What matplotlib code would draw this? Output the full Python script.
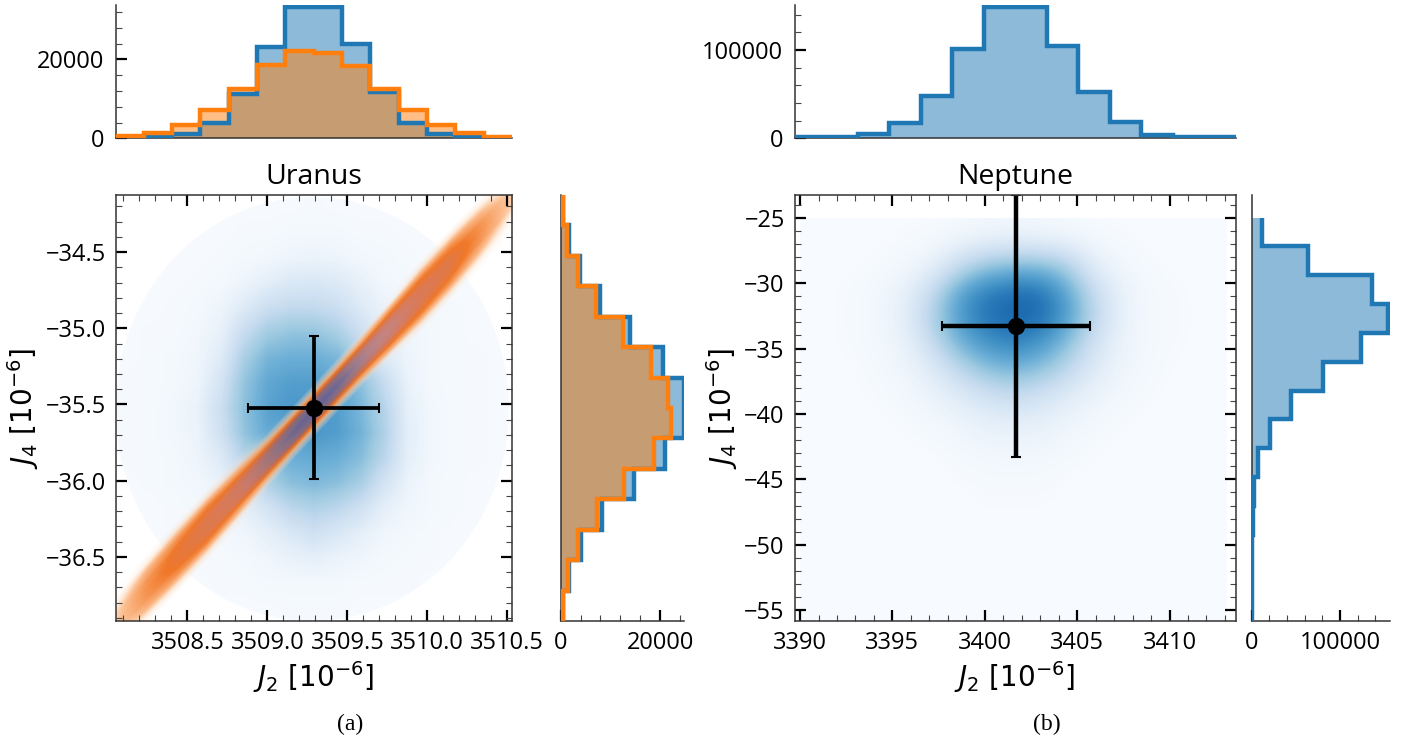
import matplotlib
matplotlib.use('Agg')
import matplotlib.pyplot as plt
import numpy as np
from matplotlib.colors import LinearSegmentedColormap
from matplotlib.patches import Ellipse, Rectangle
from matplotlib.ticker import MultipleLocator
from matplotlib.transforms import Affine2D

# marginal histograms
uranus_j2_blue = [100, 400, 1000, 3900, 11100, 23000, 33300, 33300, 24000, 11600, 4000, 1000, 300, 100]
uranus_j2_orange = [500, 1400, 3400, 7200, 12500, 18500, 22000, 21700, 18300, 12400, 7200, 3300, 1300, 450]
# these two run from the top bin to the bottom bin
uranus_j4_blue = [400, 1700, 3800, 7900, 14000, 20500, 24700, 24700, 20900, 14700, 8400, 4100, 1700, 400]
uranus_j4_orange = [400, 1200, 3400, 7200, 12500, 18100, 21600, 22100, 18700, 12800, 7400, 3500, 1400, 400]
neptune_j2 = [1000, 1800, 4500, 17700, 48300, 101000, 149000, 149000, 105000, 52000, 18100, 4200, 1500, 1000]
neptune_j4 = [12000, 63400, 135800, 154700, 123800, 81100, 44500, 20800, 7500, 2600, 1100, 500, 300, 200]

# best values with errors
uranus_j2, uranus_j2_err = 3509.29, 0.41
uranus_j4, uranus_j4_err = -35.52, 0.47
neptune_j2_best, neptune_j2_err = 3401.68, 4.0
neptune_j4_best, neptune_j4_err = -33.28, 10.0

# density of the blue cloud, top row first, on a coarse grid
uranus_cloud = [
    [.005, .005, .005, .005, .005, .005, .005, .005, .01, .005, .005, .005, .005, .005, .005, .005, .005],
    [.005, .005, .005, .005, .005, .01, .01, .02, .02, .02, .01, .01, .005, .005, .005, .005, .005],
    [.005, .005, .005, .005, .01, .02, .03, .05, .06, .05, .03, .02, .01, .005, .005, .005, .005],
    [.005, .005, .005, .01, .02, .05, .10, .14, .15, .13, .08, .03, .02, .01, .005, .005, .005],
    [.005, .005, .01, .02, .05, .13, .22, .26, .26, .22, .13, .06, .03, .02, .01, .005, .005],
    [.005, .01, .01, .03, .08, .24, .36, .40, .40, .34, .22, .09, .04, .02, .01, .005, .005],
    [.005, .01, .02, .04, .12, .34, .47, .50, .50, .46, .32, .13, .05, .02, .01, .01, .005],
    [.01, .01, .02, .05, .18, .40, .53, .57, .57, .54, .42, .24, .07, .02, .01, .01, .005],
    [.01, .01, .03, .07, .22, .42, .55, .60, .60, .57, .46, .30, .09, .03, .01, .01, .005],
    [.01, .01, .03, .06, .20, .40, .52, .57, .60, .57, .48, .32, .10, .03, .01, .01, .005],
    [.01, .01, .02, .05, .13, .30, .43, .50, .52, .50, .43, .28, .09, .03, .01, .01, .005],
    [.005, .01, .02, .03, .07, .17, .33, .42, .45, .42, .34, .18, .06, .02, .01, .005, .005],
    [.005, .005, .01, .02, .04, .09, .18, .28, .32, .28, .20, .09, .04, .02, .01, .005, .005],
    [.005, .005, .01, .01, .02, .04, .09, .15, .20, .15, .09, .04, .02, .01, .005, .005, .005],
    [.005, .005, .005, .01, .01, .02, .04, .07, .09, .06, .04, .02, .01, .01, .005, .005, .005],
    [.005, .005, .005, .005, .01, .01, .02, .02, .02, .02, .01, .01, .01, .005, .005, .005, .005],
    [.005, .005, .005, .005, .005, .005, .005, .01, .01, .01, .005, .005, .005, .005, .005, .005, .005],
]

neptune_cloud = [
    [0, 0, 0, 0, 0, 0, .01, .02, .02, .02, .01, 0, 0, 0, 0, 0, 0],
    [0, 0, 0, 0, .01, .02, .05, .08, .10, .08, .06, .03, .01, 0, 0, 0, 0],
    [0, 0, 0, .01, .03, .08, .25, .40, .45, .45, .35, .10, .04, .01, 0, 0, 0],
    [0, 0, .01, .03, .08, .25, .55, .70, .76, .75, .55, .25, .07, .02, .01, 0, 0],
    [0, 0, .01, .03, .10, .33, .60, .75, .80, .78, .60, .30, .08, .02, .01, 0, 0],
    [0, 0, .01, .03, .07, .25, .50, .63, .70, .63, .45, .20, .06, .02, .01, 0, 0],
    [0, 0, 0, .02, .05, .13, .30, .44, .50, .44, .30, .13, .05, .02, 0, 0, 0],
    [0, 0, 0, .01, .03, .07, .14, .22, .28, .22, .14, .07, .03, .01, 0, 0, 0],
    [0, 0, 0, 0, .01, .03, .06, .10, .12, .10, .06, .03, .01, 0, 0, 0, 0],
    [0, 0, 0, 0, 0, .01, .03, .05, .05, .05, .03, .01, 0, 0, 0, 0, 0],
    [0, 0, 0, 0, 0, 0, .01, .02, .02, .02, .01, 0, 0, 0, 0, 0, 0],
    [0, 0, 0, 0, 0, 0, 0, .01, .01, .01, 0, 0, 0, 0, 0, 0, 0],
    [0, 0, 0, 0, 0, 0, 0, 0, 0, 0, 0, 0, 0, 0, 0, 0, 0],
    [0, 0, 0, 0, 0, 0, 0, 0, 0, 0, 0, 0, 0, 0, 0, 0, 0],
    [0, 0, 0, 0, 0, 0, 0, 0, 0, 0, 0, 0, 0, 0, 0, 0, 0],
    [0, 0, 0, 0, 0, 0, 0, 0, 0, 0, 0, 0, 0, 0, 0, 0, 0],
    [0, 0, 0, 0, 0, 0, 0, 0, 0, 0, 0, 0, 0, 0, 0, 0, 0],
]

# orange ridge: columns step along J2, rows are J4 distance from the ridge line (+.24 at top, -.24 at bottom)
ridge_density = [
    [0, 0, 0, 0, 0, 0, 0, 0, 0, 0, 0, 0, 0, 0],
    [.02, .10, .15, .16, .10, .02, 0, 0, 0, .04, .16, .16, .10, .02],
    [.10, .30, .40, .45, .38, .28, .25, .25, .28, .40, .46, .42, .28, .08],
    [.20, .40, .52, .60, .65, .72, .82, .82, .75, .72, .62, .56, .40, .20],
    [.22, .42, .55, .62, .70, .82, .95, .98, .88, .78, .66, .60, .42, .22],
    [.20, .40, .52, .60, .65, .72, .82, .82, .75, .72, .62, .56, .40, .20],
    [.10, .30, .40, .45, .38, .28, .25, .25, .28, .40, .46, .42, .28, .08],
    [.02, .10, .15, .16, .10, .02, 0, 0, 0, .04, .16, .16, .10, .02],
    [0, 0, 0, 0, 0, 0, 0, 0, 0, 0, 0, 0, 0, 0],
]
ridge_j2_range = (3507.955, 3510.615)
ridge_offset_range = (-.27, .27)
ridge_slope, ridge_start_j2, ridge_start_j4 = 1.125, 3508.05, -36.93

BLUE = '#1f77b4'
ORANGE = '#ff7f0e'
W, H = 1416, 745

plt.rcParams['font.family'] = ['Open Sans', 'DejaVu Sans']
plt.rcParams['mathtext.fontset'] = 'dejavusans'
plt.rcParams['font.size'] = 17
plt.rcParams['axes.linewidth'] = 1.1
plt.rcParams['axes.edgecolor'] = '#333333'

ridge_cmap = LinearSegmentedColormap.from_list('ridge', [
    (0.0, (1.0, .94, .88, 0.0)),
    (.25, (.99, .70, .48, .8)),
    (.5, (.94, .44, .11, .95)),
    (.7, (.80, .33, .20, .75)),
    (.85, (.63, .29, .31, .6)),
    (1.0, (.42, .23, .50, .6)),
])


def px_axes(fig, left, top, right, bottom):
    return fig.add_axes([left / W, 1 - bottom / H, (right - left) / W, (bottom - top) / H])


def style_main(ax, xminor, yminor, xmajor, ymajor):
    ax.xaxis.set_major_locator(MultipleLocator(xmajor))
    ax.yaxis.set_major_locator(MultipleLocator(ymajor))
    ax.xaxis.set_minor_locator(MultipleLocator(xminor))
    ax.yaxis.set_minor_locator(MultipleLocator(yminor))
    ax.tick_params(which='major', direction='in', top=True, right=True, length=8, width=1.6, labelsize=17, pad=7)
    ax.tick_params(which='minor', direction='in', top=True, right=True, length=4.5, width=.8, color='#444444')
    ax.set_xlabel(r'$J_2\ [10^{-6}]$', fontsize=20, labelpad=3)
    ax.set_ylabel(r'$J_4\ [10^{-6}]$', fontsize=20, labelpad=3)


def style_top(ax, major, minor):
    ax.spines[['top', 'right']].set_visible(False)
    ax.yaxis.set_major_locator(MultipleLocator(major))
    ax.yaxis.set_minor_locator(MultipleLocator(minor))
    ax.tick_params(axis='x', which='both', bottom=False, labelbottom=False)
    ax.tick_params(axis='y', which='major', direction='in', length=8, width=1.6, labelsize=17, pad=8)
    ax.tick_params(axis='y', which='minor', direction='in', length=4.5, width=.8, color='#444444')


def style_side(ax, major, minor):
    ax.spines[['top', 'right']].set_visible(False)
    ax.xaxis.set_major_locator(MultipleLocator(major))
    ax.xaxis.set_minor_locator(MultipleLocator(minor))
    ax.tick_params(axis='y', which='both', left=False, labelleft=False)
    ax.tick_params(axis='x', which='major', direction='in', length=8, width=1.6, labelsize=17, pad=7)
    ax.tick_params(axis='x', which='minor', direction='in', length=4.5, width=.8, color='#444444')


def draw_hist(ax, values, edges, color, horizontal=False, order=0):
    # fills stay under both outlines
    orient = 'horizontal' if horizontal else 'vertical'
    ax.stairs(values, edges, orientation=orient, fill=True, color=color, alpha=.5, lw=0, zorder=2 + order * .1)
    ax.stairs(values, edges, orientation=orient, color=color, lw=3.2, baseline=None, zorder=3 + order * .1)


fig = plt.figure(figsize=(W / 100, H / 100), dpi=100)

# Uranus
u_xlim = (3508.05, 3510.53)
u_ylim = (-36.92, -34.126)
ax = px_axes(fig, 115.5, 195, 512, 621)
cloud = ax.imshow(uranus_cloud, extent=(*u_xlim, *u_ylim), origin='upper', aspect='auto',
                  cmap='Blues', vmin=0, vmax=1, interpolation='bilinear')
cloud.set_clip_path(Ellipse((3509.28, -35.53), 2.46, 2.78, transform=ax.transData, fc='none'))
ridge = ax.imshow(ridge_density, extent=(*ridge_j2_range, *ridge_offset_range), origin='upper',
                  aspect='auto', cmap=ridge_cmap, vmin=0, vmax=1, interpolation='bilinear')
shear = Affine2D.from_values(1, ridge_slope, 0, 1, 0, ridge_start_j4 - ridge_slope * ridge_start_j2)
ridge.set_transform(shear + ax.transData)
ax.errorbar(uranus_j2, uranus_j4, xerr=uranus_j2_err, yerr=uranus_j4_err, fmt='o', color='k',
            ms=11.5, elinewidth=2.7, capsize=3.5, capthick=1.5)
ax.set_xlim(u_xlim)
ax.set_ylim(u_ylim)
style_main(ax, .1, .1, .5, .5)
ax.set_title('Uranus', fontsize=20.5, pad=8)

top = px_axes(fig, 115.5, 5, 512, 138.3)
edges = np.linspace(*u_xlim, len(uranus_j2_blue) + 1)
draw_hist(top, uranus_j2_blue, edges, BLUE)
draw_hist(top, uranus_j2_orange, edges, ORANGE, order=1)
top.set_xlim(u_xlim)
top.set_ylim(0, 33750)
style_top(top, 20000, 4000)

side = px_axes(fig, 560.7, 195, 684, 621)
edges = np.linspace(*u_ylim, len(uranus_j4_blue) + 1)
draw_hist(side, uranus_j4_blue[::-1], edges, BLUE, True)
draw_hist(side, uranus_j4_orange[::-1], edges, ORANGE, True, order=1)
side.set_xlim(0, 24800)
side.set_ylim(u_ylim)
style_side(side, 20000, 4000)

# Neptune
n_xlim = (3389.7, 3413.57)
n_ylim = (-55.82, -23.27)
ax = px_axes(fig, 794.5, 195, 1235.5, 621)
cloud = ax.imshow(neptune_cloud, extent=(3389.28, 3413.8, -56.45, -23.98), origin='upper', aspect='auto',
                  cmap='Blues', vmin=0, vmax=1, interpolation='bicubic')
cloud.set_clip_path(Rectangle((3390, -55.82), 23.1, 30.82, transform=ax.transData))
ax.errorbar(neptune_j2_best, neptune_j4_best, xerr=neptune_j2_err, yerr=neptune_j4_err, fmt='o',
            color='k', ms=11.5, elinewidth=3.2, capsize=3.5, capthick=1.5)
ax.set_xlim(n_xlim)
ax.set_ylim(n_ylim)
style_main(ax, 1, 1, 5, 5)
ax.set_title('Neptune', fontsize=20.5, pad=8)

top = px_axes(fig, 794.5, 5, 1235.5, 138.3)
edges = np.linspace(*n_xlim, len(neptune_j2) + 1)
draw_hist(top, neptune_j2, edges, BLUE)
top.set_xlim(n_xlim)
top.set_ylim(0, 151000)
style_top(top, 100000, 20000)

side = px_axes(fig, 1251.7, 195, 1390, 621)
edges = np.linspace(n_ylim[0], -25, len(neptune_j4) + 1)
draw_hist(side, neptune_j4[::-1], edges, BLUE, True)
side.set_xlim(0, 156600)
side.set_ylim(n_ylim)
style_side(side, 100000, 20000)

fig.text(350 / W, 1 - 724 / H, '(a)', family='Liberation Serif', fontsize=17, ha='center', va='center')
fig.text(1047 / W, 1 - 724 / H, '(b)', family='Liberation Serif', fontsize=17, ha='center', va='center')

fig.savefig('out.png', dpi=100)
